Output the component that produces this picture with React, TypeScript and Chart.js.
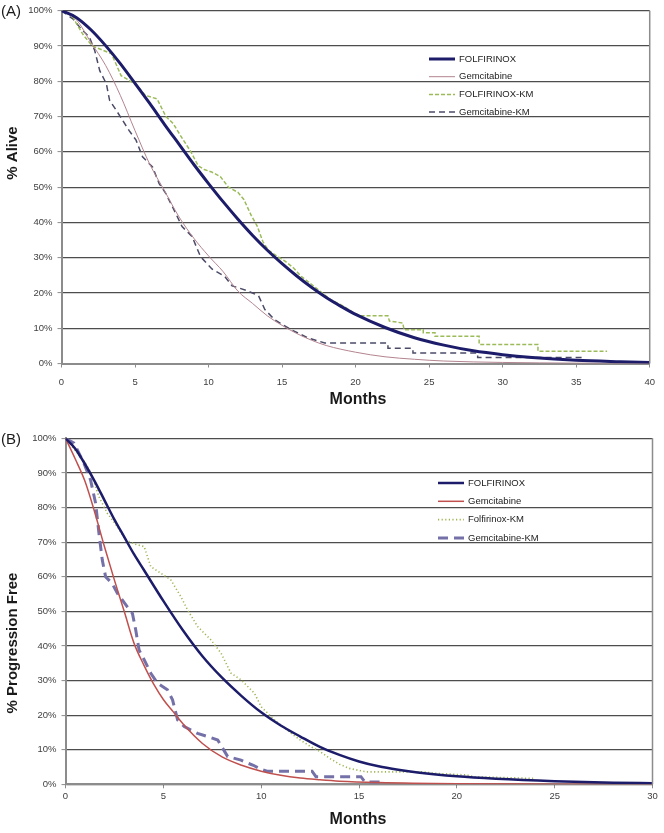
import React, { useEffect, useRef } from "react";
import { Chart, registerables } from "chart.js";

Chart.register(...registerables);

// ---------- Panel A: overall survival ----------
const folfA_months = [0, 1, 2, 3, 4, 5, 6, 7, 8, 9, 10, 11, 12, 13, 14, 15, 16, 17, 18, 19, 20, 22, 24, 26, 28, 30, 32, 35, 38, 40];
const folfA_pct = [100, 98.1, 94.6, 90.1, 85.0, 79.4, 73.7, 67.8, 62.1, 56.4, 51.0, 45.8, 40.9, 36.3, 32.1, 28.3, 24.8, 21.6, 18.7, 16.2, 13.9, 10.2, 7.3, 5.2, 3.6, 2.5, 1.7, 0.9, 0.5, 0.3];

const gemA_months = [0, 1, 2, 3, 4, 5, 6, 7, 8, 9, 10, 11, 12, 13, 14, 15, 16, 17, 18, 20, 22, 24, 26, 30, 35, 40];
const gemA_pct = [100, 97.5, 91, 84.5, 76, 66, 56.5, 49, 41.5, 35.5, 30.5, 26, 20.5, 17, 13.5, 10.8, 8.5, 6.6, 5.1, 3.2, 1.9, 1.2, 0.7, 0.3, 0.1, 0];

const folfKmA_months = [0, 0.5, 0.8, 1.0, 1.5, 2.1, 2.7, 3.4, 3.8, 4.05, 4.7, 5.2, 5.7, 6.5, 6.8, 7.1, 7.6, 8.0, 8.8, 9.3, 9.7, 10.2, 10.8, 11.35, 12.0, 12.4, 12.9, 13.3, 13.7, 14.05, 14.7, 15.2, 15.8, 16.3, 17.2, 18.3, 19.2, 19.9, 20.3, 22.2, 22.3, 23.2, 23.3, 24.6, 24.6, 25.4, 25.4, 28.4, 28.4, 32.4, 32.4, 37.1];
const folfKmA_pct = [100, 99, 98, 96.5, 93, 90, 89, 87.8, 84, 81.6, 80, 78.5, 76, 75, 72.5, 70, 68, 65.2, 60, 56, 55, 54.3, 53, 50, 48.5, 46.5, 42, 39, 34.5, 32.2, 30.3, 29, 27, 24.7, 21.8, 18.1, 16.2, 14.3, 13.5, 13.5, 12, 11.5, 9.6, 9.6, 8.7, 8.7, 7.7, 7.7, 5.4, 5.4, 3.5, 3.5];

const gemKmA_months = [0, 0.8, 1.3, 1.9, 2.26, 2.6, 3.05, 3.27, 3.72, 4.16, 4.6, 5.07, 5.51, 6.19, 6.64, 7.09, 7.76, 8.2, 8.88, 9.45, 10.23, 11.1, 11.6, 12.0, 12.7, 13.4, 13.83, 14.5, 15.6, 16.75, 17.9, 22.2, 22.2, 23.9, 23.9, 28.3, 28.3, 35.6];
const gemKmA_pct = [100, 97.6, 95, 92.5, 88.7, 83, 79.3, 74.6, 71.8, 68.9, 66, 63.3, 58.6, 55.7, 51, 48.2, 42.6, 38.8, 36, 30.3, 26.8, 24.7, 22, 21.5, 20.5, 19.2, 15.3, 12.4, 9.6, 7.3, 5.8, 5.8, 4.3, 4.3, 3.0, 3.0, 1.7, 1.7];

// ---------- Panel B: progression-free survival ----------
const folfB_months = [0, 0.5, 1, 1.5, 2, 2.5, 3, 3.5, 4, 5, 6, 7, 8, 9, 10, 11, 12, 13, 14, 15, 16, 17, 18, 20, 22, 25, 28, 30];
const folfB_pct = [100, 97, 92.5, 87.5, 82, 76.5, 71.5, 66.5, 62, 53, 44.5, 37, 30.8, 25.5, 20.8, 17, 13.8, 10.8, 8.5, 6.6, 5.2, 4.2, 3.4, 2.3, 1.6, 0.9, 0.45, 0.3];

const gemB_months = [0, 0.5, 1, 1.5, 2, 2.5, 3, 3.5, 4, 4.5, 5, 5.5, 6, 7, 8, 9, 10, 11, 12, 13, 14, 16, 20, 25, 30];
const gemB_pct = [100, 94, 87.5, 78.5, 68.5, 59, 50, 40.8, 34.5, 29, 24.5, 21, 17.5, 11.8, 7.9, 5.5, 3.8, 2.6, 1.8, 1.3, 0.9, 0.5, 0.15, 0.05, 0];

const folfKmB_months = [0, 0.5, 1, 1.3, 1.71, 2.14, 2.65, 3.08, 3.5, 4.02, 4.36, 4.87, 5.38, 5.9, 6.24, 6.75, 7.44, 7.95, 8.46, 8.97, 9.66, 10, 10.68, 11.54, 12, 12.5, 13, 13.5, 14, 14.5, 15, 15.4, 18.3, 18.8, 20.5, 20.9, 23.9];
const folfKmB_pct = [100, 96.5, 93, 90, 83.1, 78.3, 74.5, 70.6, 69.5, 68.7, 62.9, 61, 59.1, 54.2, 50.4, 45.6, 41.7, 37.9, 32.1, 30.2, 26.3, 22.4, 18.6, 14.7, 12.8, 11, 9.5, 7.5, 5.8, 4.6, 4.0, 3.6, 3.6, 3.2, 2.7, 2.2, 1.7];

const gemKmB_months = [0, 0.43, 0.94, 1.28, 1.54, 1.71, 1.88, 2.05, 2.39, 2.65, 3.16, 3.42, 3.59, 3.76, 4.02, 4.36, 4.7, 5.21, 5.47, 5.73, 6.07, 6.75, 7.26, 7.78, 8.29, 8.97, 9.32, 9.6, 10, 10.3, 12.6, 12.8, 15.1, 15.3, 16.2];
const gemKmB_pct = [100, 98.6, 92.8, 88, 81.2, 72.5, 64.8, 60, 58, 55.2, 51.3, 49.4, 44.6, 38.8, 36, 32.1, 29.2, 27.3, 24.4, 18.6, 16.7, 14.7, 13.8, 12.8, 8, 7, 6.1, 5.5, 4.3, 3.8, 3.8, 2.2, 2.2, 0.7, 0.7];

const yTicksPct = [0, 10, 20, 30, 40, 50, 60, 70, 80, 90, 100];

const FONT = '"Liberation Sans", Arial, sans-serif';

function pts(xs: number[], ys: number[]) {
  return xs.map((x, i) => ({ x, y: ys[i] }));
}

const decoPlugin = {
  id: "deco",
  afterDraw(chart: any, _args: any, opts: any) {
    const ctx = chart.ctx;
    const ca = chart.chartArea;
    ctx.save();
    // right border of plot
    ctx.strokeStyle = "#8c8c8c";
    ctx.lineWidth = 1.5;
    ctx.beginPath();
    ctx.moveTo(ca.right, ca.top);
    ctx.lineTo(ca.right, ca.bottom);
    ctx.stroke();

    // panel label
    ctx.fillStyle = "#1a1a1a";
    ctx.textBaseline = "middle";
    ctx.textAlign = "left";
    ctx.font = `15px ${FONT}`;
    ctx.fillText(opts.panel, 1, opts.panelY);

    // y title
    ctx.save();
    ctx.translate(opts.yTitleX, opts.yTitleY);
    ctx.rotate(-Math.PI / 2);
    ctx.textAlign = "center";
    ctx.font = `bold 15px ${FONT}`;
    ctx.fillText(opts.yTitle, 0, 0);
    ctx.restore();

    // x title
    ctx.textAlign = "center";
    ctx.font = `bold 16px ${FONT}`;
    ctx.fillText(opts.xTitle, opts.xTitleX, opts.xTitleY);

    // legend
    const L = opts.legend;
    ctx.font = `9.5px ${FONT}`;
    ctx.textAlign = "left";
    chart.data.datasets.forEach((ds: any, i: number) => {
      const y = L.y0 + i * L.dy;
      ctx.save();
      ctx.strokeStyle = ds.borderColor;
      ctx.lineWidth = ds.borderWidth;
      ctx.setLineDash(ds.borderDash || []);
      ctx.beginPath();
      ctx.moveTo(L.x0, y);
      ctx.lineTo(L.x1, y);
      ctx.stroke();
      ctx.restore();
      ctx.fillStyle = "#222";
      ctx.fillText(ds.label, L.tx, y);
    });
    ctx.restore();
  },
};

function makeOptions(cfg: any) {
  return {
    responsive: false,
    animation: false,
    layout: { padding: cfg.padding },
    plugins: {
      legend: { display: false },
      tooltip: { enabled: false },
      deco: cfg.deco,
    },
    elements: { point: { radius: 0 } },
    scales: {
      x: {
        type: "linear",
        min: 0,
        max: cfg.xMax,
        afterFit: (s: any) => {
          s.height = 30;
        },
        ticks: {
          stepSize: 5,
          autoSkip: false,
          maxRotation: 0,
          padding: cfg.xTickPad,
          color: "#404040",
          font: { family: FONT, size: 9.5 },
        },
        grid: { drawOnChartArea: false, drawTicks: true, tickLength: 4, color: "#8c8c8c", lineWidth: 1 },
        border: { display: true, color: "#8c8c8c", width: 2 },
      },
      y: {
        min: 0,
        max: 100,
        afterFit: (s: any) => {
          s.width = cfg.yWidth;
        },
        afterBuildTicks: (s: any) => {
          s.ticks = yTicksPct.map((v) => ({ value: v }));
        },
        ticks: {
          callback: (v: any) => v + "%",
          padding: 5,
          color: "#404040",
          font: { family: FONT, size: 9.5 },
        },
        grid: { color: "#4d4d4d", lineWidth: 1.2, tickLength: 4, tickColor: "#8c8c8c", tickWidth: 1 },
        border: { display: true, color: "#8c8c8c", width: 2 },
      },
    },
  };
}

export default function App() {
  const refA = useRef<HTMLCanvasElement>(null);
  const refB = useRef<HTMLCanvasElement>(null);

  useEffect(() => {
    const chartA = new Chart(refA.current!, {
      type: "line",
      data: {
        datasets: [
          { label: "FOLFIRINOX", data: pts(folfA_months, folfA_pct), borderColor: "#1c1c6b", borderWidth: 3, tension: 0.4, cubicInterpolationMode: "monotone", fill: false },
          { label: "Gemcitabine", data: pts(gemA_months, gemA_pct), borderColor: "#b3848f", borderWidth: 1, tension: 0.4, cubicInterpolationMode: "monotone", fill: false },
          { label: "FOLFIRINOX-KM", data: pts(folfKmA_months, folfKmA_pct), borderColor: "#9bbb59", borderWidth: 1.5, borderDash: [4, 2], tension: 0, fill: false },
          { label: "Gemcitabine-KM", data: pts(gemKmA_months, gemKmA_pct), borderColor: "#4b4b68", borderWidth: 1.5, borderDash: [6, 4], tension: 0, fill: false },
        ],
      },
      options: makeOptions({
        xMax: 40,
        yWidth: 61.5,
        xTickPad: 9,
        padding: { left: 0, top: 10, right: 10, bottom: 26.5 },
        deco: {
          panel: "(A)",
          panelY: 12,
          yTitle: "% Alive",
          yTitleX: 13,
          yTitleY: 153,
          xTitle: "Months",
          xTitleX: 358,
          xTitleY: 400,
          legend: { x0: 429, x1: 455, tx: 459, y0: 59, dy: 17.7 },
        },
      }) as any,
      plugins: [decoPlugin],
    });

    const chartB = new Chart(refB.current!, {
      type: "line",
      data: {
        datasets: [
          { label: "FOLFIRINOX", data: pts(folfB_months, folfB_pct), borderColor: "#1c1c6b", borderWidth: 2.5, tension: 0.4, cubicInterpolationMode: "monotone", fill: false },
          { label: "Gemcitabine", data: pts(gemB_months, gemB_pct), borderColor: "#c0504d", borderWidth: 1.5, tension: 0.4, cubicInterpolationMode: "monotone", fill: false },
          { label: "Folfirinox-KM", data: pts(folfKmB_months, folfKmB_pct), borderColor: "#9fb555", borderWidth: 1.6, borderDash: [1.2, 2.4], tension: 0, fill: false },
          { label: "Gemcitabine-KM", data: pts(gemKmB_months, gemKmB_pct), borderColor: "#7470a8", borderWidth: 3, borderDash: [10, 6], tension: 0, fill: false },
        ],
      },
      options: makeOptions({
        xMax: 30,
        yWidth: 65.5,
        xTickPad: 2,
        padding: { left: 0, top: 18.3, right: 11.5, bottom: 18.7 },
        deco: {
          panel: "(B)",
          panelY: 20,
          yTitle: "% Progression Free",
          yTitleX: 13,
          yTitleY: 223,
          xTitle: "Months",
          xTitleX: 358,
          xTitleY: 400,
          legend: { x0: 438, x1: 464, tx: 468, y0: 63, dy: 18.3 },
        },
      }) as any,
      plugins: [decoPlugin],
    });

    return () => {
      chartA.destroy();
      chartB.destroy();
    };
  }, []);

  return (
    <div style={{ position: "absolute", left: 0, top: 0, width: 664, height: 833, background: "#fff" }}>
      <canvas ref={refA} width={664} height={420} style={{ position: "absolute", left: 0, top: 0 }} />
      <canvas ref={refB} width={664} height={413} style={{ position: "absolute", left: 0, top: 420 }} />
    </div>
  );
}
